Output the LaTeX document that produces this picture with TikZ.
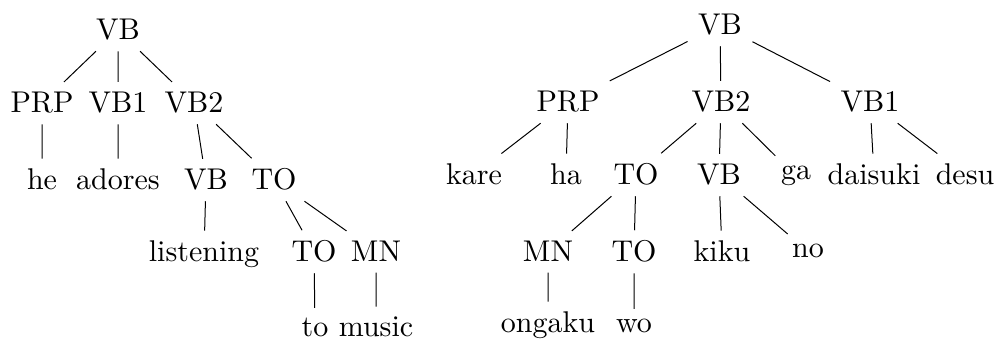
\documentclass[tikz,border=0pt]{standalone}
\begin{document}
\begin{tikzpicture}[x=0.5pt,y=-0.5pt,
  t/.style={anchor=base,inner sep=3.333pt,scale=1.5,transform shape,font=\fontsize{10}{12}\selectfont},
  e/.style={line width=0.5pt}]
\useasboundingbox (0,0) rectangle (998,341);
% left tree
\node[t] (a) at (118,40) {VB};
\node[t] (a1) at (42,113) {PRP};
\node[t] (a2) at (118,113) {VB1};
\node[t] (a3) at (194,113) {VB2};
\node[t] (a11) at (42,190) {he};
\node[t] (a21) at (118,190) {adores};
\node[t] (a31) at (206,190) {VB};
\node[t] (a32) at (274,190) {TO};
\node[t] (a311) at (204,262) {listening};
\node[t] (a321) at (314,262) {TO};
\node[t] (a322) at (376,262) {MN};
\node[t] (a3211) at (315,337) {to};
\node[t] (a3221) at (376,337) {music};
\foreach \p/\c in {a/a1,a/a2,a/a3,a1/a11,a2/a21,a3/a31,a3/a32,a31/a311,a32/a321,a32/a322,a321/a3211,a322/a3221}
  \draw[e] (\p) -- (\c);
% right tree
\node[t] (b) at (720,35) {VB};
\node[t] (b1) at (568,112) {PRP};
\node[t] (b2) at (721,112) {VB2};
\node[t] (b3) at (870,112) {VB1};
\node[t] (b11) at (474,185) {kare};
\node[t] (b12) at (566,185) {ha};
\node[t] (b21) at (636,185) {TO};
\node[t] (b22) at (719,185) {VB};
\node[t] (b23) at (796,180) {ga};
\node[t] (b31) at (874,185) {daisuki};
\node[t] (b32) at (965,185) {desu};
\node[t] (b211) at (548,262) {MN};
\node[t] (b212) at (634,262) {TO};
\node[t] (b221) at (722,262) {kiku};
\node[t] (b222) at (808,258) {no};
\node[t] (b2111) at (548,333) {ongaku};
\node[t] (b2121) at (634,333) {wo};
\foreach \p/\c in {b/b1,b/b2,b/b3,b1/b11,b1/b12,b2/b21,b2/b22,b2/b23,b3/b31,b3/b32,b21/b211,b21/b212,b22/b221,b22/b222,b211/b2111,b212/b2121}
  \draw[e] (\p) -- (\c);
\end{tikzpicture}
\end{document}
